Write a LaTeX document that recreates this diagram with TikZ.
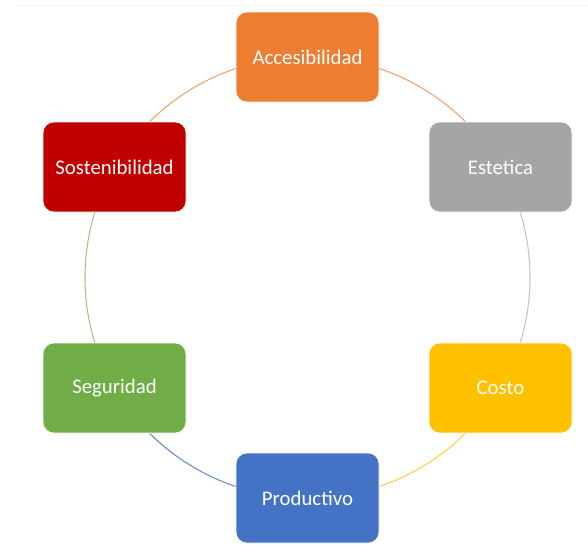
\documentclass[tikz,border=0pt]{standalone}
\usepackage{fontspec}
\setmainfont{Carlito}
\usetikzlibrary{backgrounds}
\definecolor{cAcc}{HTML}{ED7D31}
\definecolor{cEst}{HTML}{A5A5A5}
\definecolor{cCos}{HTML}{FFC000}
\definecolor{cPro}{HTML}{4472C4}
\definecolor{cSeg}{HTML}{70AD47}
\definecolor{cSos}{HTML}{C00000}
\tikzset{
  box/.style={rounded corners=11pt, minimum width=143pt, minimum height=90pt,
    inner sep=0pt, text=white, draw=white, line width=0.6pt,
    font=\fontsize{20.8}{24}\selectfont},
  link/.style={line width=1.1pt, bend left=30, looseness=0.913},
}
\begin{document}
\begin{tikzpicture}[x=1pt,y=-1pt]
\useasboundingbox (0,0) rectangle (588,544);
\fill[black!2] (17,4) rectangle (588,7);
\node[box, fill=cAcc] (acc) at (307.5,57) {Accesibilidad};
\node[box, fill=cEst] (est) at (500.5,167) {Estetica};
\node[box, fill=cCos] (cos) at (500.5,388) {Costo};
\node[box, fill=cPro] (pro) at (307.5,498) {Productivo};
\node[box, fill=cSeg] (seg) at (114.5,388) {Seguridad};
\node[box, fill=cSos] (sos) at (114.5,167) {Sostenibilidad};
\begin{scope}[on background layer]
\draw[link, draw=cAcc!70!white] (acc.center) to (est.center);
\draw[link, draw=cEst!65!white] (est.center) to (cos.center);
\draw[link, draw=cCos!75!white] (cos.center) to (pro.center);
\draw[link, draw=cPro!80!white] (pro.center) to (seg.center);
\draw[link, draw=cSeg!65!white] (seg.center) to (sos.center);
\draw[link, draw=cAcc!70!white] (sos.center) to (acc.center);
\end{scope}
\end{tikzpicture}
\end{document}
